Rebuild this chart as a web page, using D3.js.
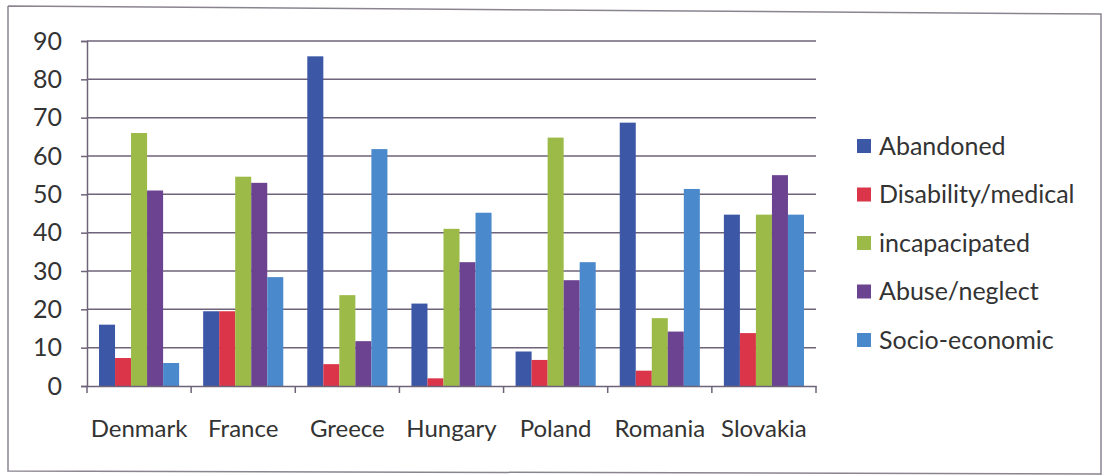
<!DOCTYPE html>
<html>
<head>
<meta charset="utf-8">
<script src="https://cdn.jsdelivr.net/npm/d3@7"></script>
<style>
  body { margin: 0; background: #fff; }
  text { font-family: Lato, "Open Sans", sans-serif; fill: #333; }
</style>
</head>
<body>
<div id="chart"></div>
<script>
const width = 1106;
const height = 475;

// data
const countries = ["Denmark", "France", "Greece", "Hungary", "Poland", "Romania", "Slovakia"];
const series = ["Abandoned", "Disability/medical", "incapacipated", "Abuse/neglect", "Socio-economic"];
const abandoned = [16, 19.5, 86, 21.5, 9, 68.7, 44.7];
const disability = [7.3, 19.5, 5.7, 2, 6.8, 4, 13.8];
const incapacipated = [66, 54.6, 23.7, 41, 64.8, 17.7, 44.7];
const abuse = [51, 53, 11.7, 32.3, 27.6, 14.2, 55];
const socio = [6, 28.4, 61.8, 45.2, 32.3, 51.4, 44.7];
const yTicks = [0, 10, 20, 30, 40, 50, 60, 70, 80, 90];
const colors = ["#3b57a6", "#da3548", "#9cba47", "#6b4391", "#4a89cb"];

const values = [abandoned, disability, incapacipated, abuse, socio];

const margin = { left: 87, right: 290, top: 41, bottom: 89 };
const plotRight = width - margin.right;
const plotBottom = height - margin.bottom;

const svg = d3.select("#chart")
  .append("svg")
  .attr("width", width)
  .attr("height", height);

// outer frame (scan is slightly tilted)
svg.append("path")
  .attr("d", "M8,6 L1101,14 L1101,476 M8,6 L8,471 L1101,474")
  .attr("fill", "none")
  .attr("stroke", "#8a8490")
  .attr("stroke-width", 1.5);

const x = d3.scaleBand()
  .domain(countries)
  .range([margin.left, plotRight])
  .padding(0);

const xInner = d3.scaleBand()
  .domain(series)
  .range([0, x.bandwidth()])
  .paddingInner(0)
  .paddingOuter(0.75);

const y = d3.scaleLinear()
  .domain([0, 90])
  .range([plotBottom, margin.top]);

// gridlines + y axis
const yAxis = svg.append("g")
  .attr("transform", `translate(${margin.left},0)`)
  .call(d3.axisLeft(y).tickValues(yTicks).tickSize(6).tickPadding(19))
  .call(g => g.select(".domain").attr("stroke", "#6e6378").attr("stroke-width", 1.5));
yAxis.selectAll(".tick line").attr("stroke", "#6e6378").attr("stroke-width", 1.5);
yAxis.selectAll(".tick text")
  .style("font-size", "25px")
  .style("font-family", "Lato, sans-serif")
  .attr("fill", "#333");

svg.append("g")
  .selectAll("line")
  .data(yTicks.filter(d => d > 0))
  .enter()
  .append("line")
  .attr("x1", margin.left)
  .attr("x2", plotRight)
  .attr("y1", d => y(d))
  .attr("y2", d => y(d))
  .attr("stroke", "#6e6378")
  .attr("stroke-width", 1.5);

// bars
const groups = svg.append("g")
  .selectAll("g")
  .data(countries)
  .enter()
  .append("g")
  .attr("transform", d => `translate(${x(d)},0)`);

groups.selectAll("rect")
  .data((c, i) => series.map((s, j) => ({ s: s, j: j, v: values[j][i] })))
  .enter()
  .append("rect")
  .attr("x", d => xInner(d.s))
  .attr("width", xInner.bandwidth())
  .attr("y", d => y(d.v))
  .attr("height", d => y(0) - y(d.v))
  .attr("fill", d => colors[d.j]);

// x axis
const xAxis = svg.append("g")
  .attr("transform", `translate(0,${plotBottom})`)
  .call(d3.axisBottom(x).tickSize(0).tickPadding(34));
xAxis.select(".domain").attr("stroke", "#6e6378").attr("stroke-width", 1.5);
xAxis.selectAll(".tick text")
  .style("font-size", "24px")
  .style("font-family", "Lato, sans-serif")
  .attr("fill", "#333");

// category boundary ticks
svg.append("g")
  .selectAll("line")
  .data(countries.concat(["end"]))
  .enter()
  .append("line")
  .attr("x1", (d, i) => margin.left + i * x.step())
  .attr("x2", (d, i) => margin.left + i * x.step())
  .attr("y1", plotBottom)
  .attr("y2", plotBottom + 7)
  .attr("stroke", "#6e6378")
  .attr("stroke-width", 1.5);

// legend
const legend = svg.append("g")
  .attr("transform", "translate(857,146)")
  .selectAll("g")
  .data(series)
  .enter()
  .append("g")
  .attr("transform", (d, i) => `translate(0,${i * 48.5})`);

legend.append("rect")
  .attr("x", 0)
  .attr("y", -7)
  .attr("width", 14)
  .attr("height", 14)
  .attr("fill", (d, i) => colors[i]);

legend.append("text")
  .attr("x", 22)
  .attr("dy", "0.35em")
  .style("font-size", "25px")
  .text(d => d);
</script>
</body>
</html>
